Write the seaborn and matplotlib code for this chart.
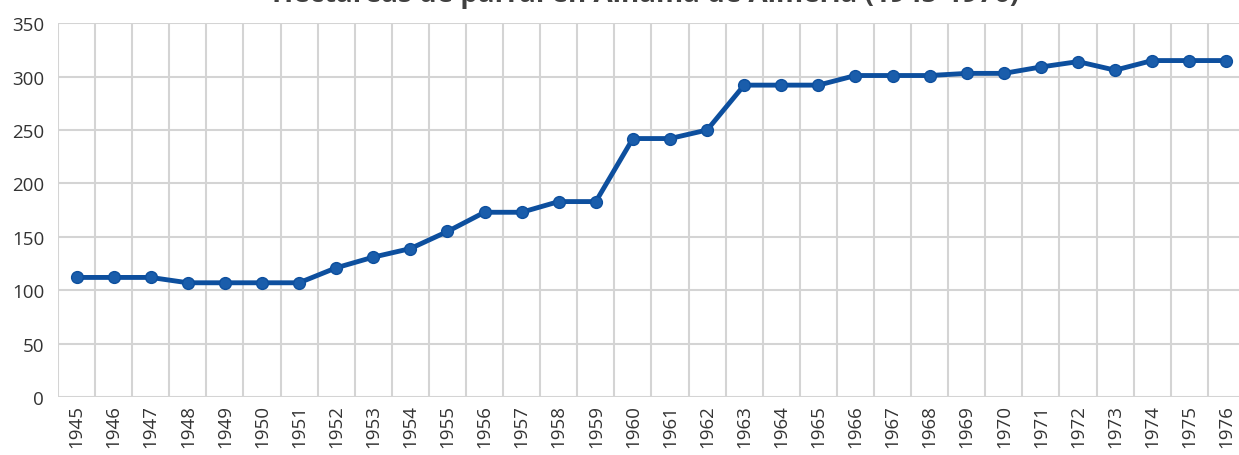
import matplotlib
matplotlib.use("Agg")
import matplotlib.pyplot as plt
import pandas as pd
import seaborn as sns

years = [str(y) for y in range(1945, 1977)]
hectares = [112, 112, 112, 107, 107, 107, 107, 121, 131, 139, 155, 173, 173,
            183, 183, 242, 242, 250, 292, 292, 292, 301, 301, 301, 303, 303,
            309, 314, 306, 315, 315, 315]
y_ticks = [0, 50, 100, 150, 200, 250, 300, 350]
title = "Hectáreas de parral en Alhama de Almería (1945-1976)"

df = pd.DataFrame({"year": years, "ha": hectares})

sns.set_theme(style="white")
plt.rcParams["font.family"] = ["Open Sans", "DejaVu Sans"]

fig = plt.figure(figsize=(12.39, 4.56), dpi=100)
ax = fig.add_axes([0.0468, 0.127, 0.958, 0.820])

sns.lineplot(data=df, x="year", y="ha", ax=ax, color="#0D4F9E", linewidth=3.5,
             marker="o", markersize=8.5, markerfacecolor="#1A5DAB",
             markeredgecolor="#0D4F9E", markeredgewidth=1)

n = len(years)
ax.set_xlim(-0.5, n - 0.5)
ax.set_ylim(0, 350)
ax.set_yticks(y_ticks)
ax.set_xticks(range(n))
ax.set_xticklabels(years, rotation=90)
ax.set_xticks([i - 0.5 for i in range(n + 1)], minor=True)

ax.grid(False)
ax.yaxis.grid(True, color="#D4D4D4", linewidth=1.5)
ax.xaxis.grid(True, which="minor", color="#D4D4D4", linewidth=1.5)
ax.set_axisbelow(True)
for s in ax.spines.values():
    s.set_visible(False)

ax.tick_params(axis="both", which="both", length=0, labelsize=13.5,
               labelcolor="#333333")
ax.tick_params(axis="y", pad=10)
ax.tick_params(axis="x", pad=5)
ax.set_xlabel("")
ax.set_ylabel("")

fig.text(0.521, 0.9956, title, ha="center", va="baseline", fontsize=20,
         fontweight="bold", color="#404040")

fig.savefig("out.png", dpi=100)
